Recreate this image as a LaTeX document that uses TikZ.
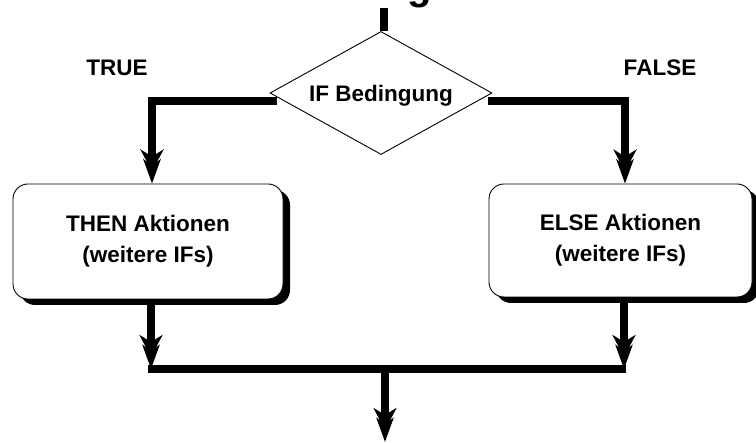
\documentclass[tikz,border=0pt]{standalone}
\usepackage{fontspec}
\setmainfont{Liberation Sans}
\usetikzlibrary{shapes.geometric,arrows.meta,shadows,calc}
\begin{document}
\begin{tikzpicture}[x=1pt,y=-1pt,
  lbl/.style={font=\bfseries\fontsize{22.5}{31}\selectfont, inner sep=0pt},
  cond/.style={diamond, draw, line width=0.9pt, minimum width=222pt, minimum height=123pt,
    inner sep=0pt, aspect=1.8, fill=white, text depth=0pt,
    font=\bfseries\fontsize{22.5}{31}\selectfont},
  actbox/.style={rectangle, rounded corners=15pt, draw, line width=0.9pt, fill=white,
    align=center, inner sep=0pt, font=\bfseries\fontsize{22.5}{31}\selectfont,
    drop shadow={shadow xshift=7pt, shadow yshift=-6pt, fill=black, opacity=1}},
  flow/.style={line width=8pt},
  flowarrow/.style={line width=8pt,
    -{Stealth[length=22pt,width=23pt,inset=7pt,sep=-12pt]Stealth[length=24pt,width=17pt,inset=6pt]}}
]
\useasboundingbox (0,0) rectangle (756,443);

% cut-off title
\begin{scope}
  \clip (0,0) rectangle (756,443);
  \node[font=\bfseries\fontsize{40}{40}\selectfont, anchor=base, inner sep=0pt] (title) at (420,0) {g};
\end{scope}

\node[cond] (d) at (381,93) {IF Bedingung};

\node[actbox, minimum width=270pt, minimum height=115pt] (tbox) at (148,241.5)
  {THEN Aktionen\\(weitere IFs)};
\node[actbox, minimum width=263pt, minimum height=113pt] (ebox) at (620.5,240.5)
  {ELSE Aktionen\\(weitere IFs)};

\node[lbl] (true) at (117,68) {TRUE};
\node[lbl] (false) at (660,68) {FALSE};

% incoming line at top
\coordinate (topin) at (384,8);
\draw[flow] (topin) -- (topin |- d.north);

% branches
\coordinate (lstart) at (277,101);
\coordinate (lbend) at (152,101);
\coordinate (rstart) at (488,101);
\coordinate (rbend) at (625,101);
\draw[flowarrow] (lstart) -- (lbend) -- (lbend |- tbox.north);
\draw[flowarrow] (rstart) -- (rbend) -- (rbend |- ebox.north);

% join
\coordinate (jl) at (151,369);
\coordinate (jr) at (624,369);
\coordinate (out) at (385,442);
\draw[flowarrow] (tbox.south -| jl) -- (jl);
\draw[flowarrow] (ebox.south -| jr) -- (jr);
\draw[flow] ([xshift=-3pt]jl) -- ([xshift=2pt]jr);
\draw[flowarrow] (jl -| out) -- (out);
\end{tikzpicture}
\end{document}
